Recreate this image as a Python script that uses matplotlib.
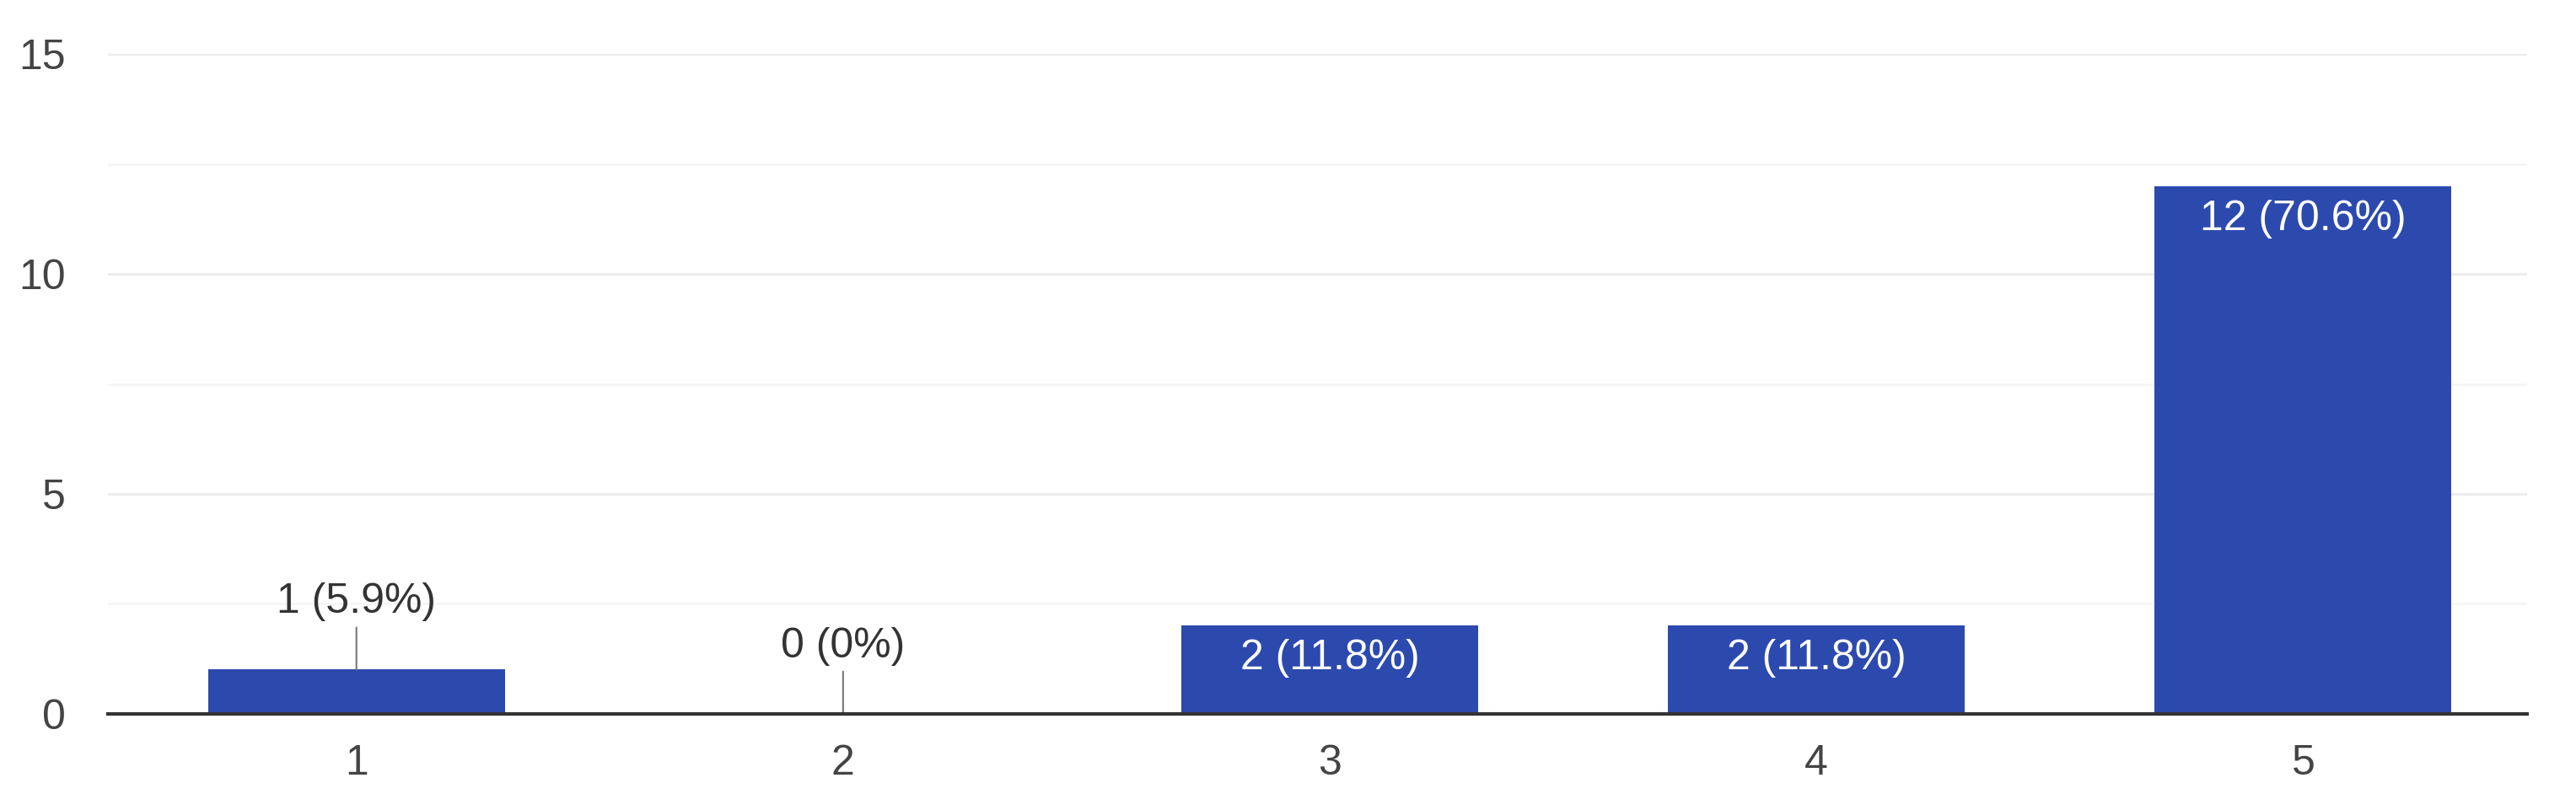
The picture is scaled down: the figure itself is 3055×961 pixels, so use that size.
import numpy as np
import matplotlib; matplotlib.use('Agg')
from matplotlib import pyplot as plt

categories = ['1', '2', '3', '4', '5']
counts = [1, 0, 2, 2, 12]
labels = ['1 (5.9%)', '0 (0%)', '2 (11.8%)', '2 (11.8%)', '12 (70.6%)']
inside = [False, False, True, True, True]

plt.rcParams['font.family'] = ['Liberation Sans', 'DejaVu Sans']
barColor = '#2c4aae'
fs = 36

fig = plt.figure(figsize=(30.55, 9.61), dpi=100)
ax = fig.add_axes([0.042, 0.119, 0.939, 0.814])

x = np.arange(1, len(categories) + 1)
ax.bar(x, counts, width=0.61, color=barColor, zorder=3)

for xi, c, lab, ins in zip(x, counts, labels, inside):
    if ins:
        ax.annotate(lab, (xi, c), xytext=(0, -39), textcoords='offset pixels',
                    ha='center', va='center', color='white', fontsize=fs, zorder=4)
    else:
        # leader line from bar top up to the label
        ax.annotate('', (xi, c), xytext=(0, 50), textcoords='offset pixels',
                    arrowprops=dict(arrowstyle='-', color='#777777', lw=1.5,
                                    shrinkA=0, shrinkB=0), zorder=4)
        ax.annotate(lab, (xi, c), xytext=(0, 80), textcoords='offset pixels',
                    ha='center', va='center', color='#333333', fontsize=fs, zorder=4)

ax.set_xlim(0.49, 5.46)
ax.set_ylim(0, 15)
ax.set_yticks([0, 5, 10, 15])
ax.set_yticks([2.5, 7.5, 12.5], minor=True)
ax.set_xticks(x)
ax.set_xticklabels(categories)
ax.grid(axis='y', which='major', color='#ebebeb', lw=2, zorder=0)
ax.grid(axis='y', which='minor', color='#f6f6f6', lw=2, zorder=0)
ax.tick_params(axis='both', which='both', length=0, labelsize=fs, labelcolor='#444444')
ax.tick_params(axis='y', pad=36)
ax.tick_params(axis='x', pad=26)
for s in ['left', 'right', 'top']:
    ax.spines[s].set_visible(False)
ax.spines['bottom'].set_color('#333333')
ax.spines['bottom'].set_linewidth(3)
ax.spines['bottom'].set_zorder(5)

plt.savefig('out.png', dpi=100, facecolor='white')
